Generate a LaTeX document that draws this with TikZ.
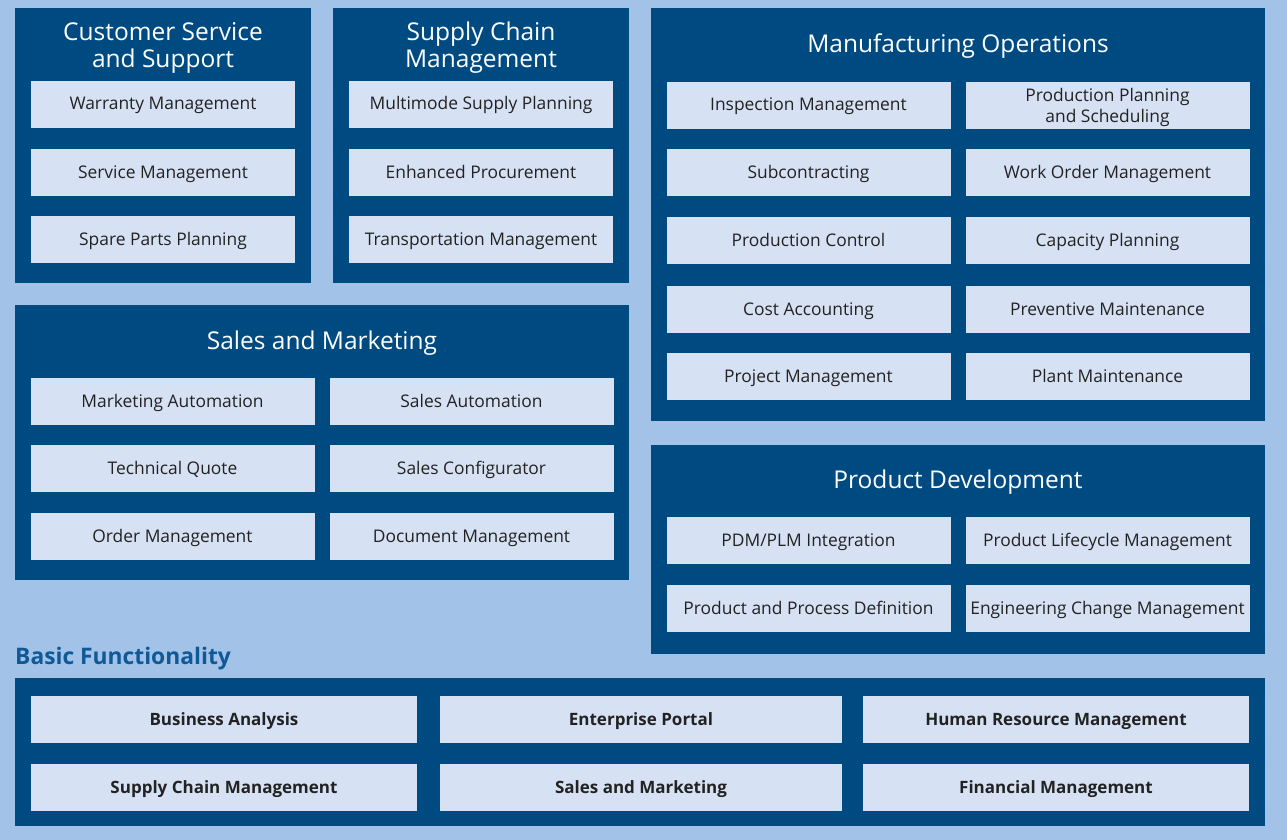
\documentclass[tikz,border=0pt]{standalone}
\usepackage{fontspec}
\setmainfont{Open Sans}
\usepackage{xcolor}
\usetikzlibrary{positioning}

\definecolor{pagebg}{HTML}{A3C2E7}
\definecolor{panelblue}{HTML}{004A82}
\definecolor{itembg}{HTML}{D6E1F4}
\definecolor{itemtext}{HTML}{222222}
\definecolor{basictext}{HTML}{0F5A96}

\tikzset{
  panel/.style={fill=panelblue, draw=none},
  title/.style={text=white, align=center, inner sep=0pt,
                font=\fontsize{24.5}{27}\selectfont},
  itembase/.style={fill=itembg, text=itemtext, align=center, inner sep=0pt,
                   minimum height=47pt, font=\fontsize{17.4}{21}\selectfont},
  item/.style={itembase, text height=14pt, text depth=3pt},
  basic/.style={item, font=\bfseries\fontsize{17}{21}\selectfont}
}

\begin{document}
\begin{tikzpicture}[x=1pt,y=-1pt]
  \fill[pagebg] (0,0) rectangle (1287,840);
  \useasboundingbox (0,0) rectangle (1287,840);

  % panels
  \fill[panel] (15,8)    rectangle (311,283);
  \fill[panel] (333,8)   rectangle (629,283);
  \fill[panel] (651,8)   rectangle (1265,421);
  \fill[panel] (15,305)  rectangle (629,580);
  \fill[panel] (651,445) rectangle (1265,654);
  \fill[panel] (15,678)  rectangle (1265,826);

  % customer service
  \node[title] (cs)  at (163,48) {Customer Service\\and Support};
  \node[item, minimum width=264pt] (cs1) at (163,104.5) {Warranty Management};
  \node[item, minimum width=264pt] (cs2) at (163,172.5) {Service Management};
  \node[item, minimum width=264pt] (cs3) at (163,239.5) {Spare Parts Planning};

  % supply chain
  \node[title] (sc)  at (481,48) {Supply Chain\\Management};
  \node[item, minimum width=264pt] (sc1) at (481,104.5) {Multimode Supply Planning};
  \node[item, minimum width=264pt] (sc2) at (481,172.5) {Enhanced Procurement};
  \node[item, minimum width=264pt] (sc3) at (481,239.5) {Transportation Management};

  % manufacturing
  \node[title] (mo)  at (958,46) {Manufacturing Operations};
  \node[item, minimum width=284pt] (mo1)  at (808.5,105.5) {Inspection Management};
  \node[itembase, minimum width=284pt, minimum height=47pt] (mo2) at (1107.5,105.5) {};
  \node[itembase, fill=none, minimum height=0pt] (mo2t) at (1107.5,107.5) {Production Planning\\and Scheduling};
  \node[item, minimum width=284pt] (mo3)  at (808.5,172.5) {Subcontracting};
  \node[item, minimum width=284pt] (mo4)  at (1107.5,172.5) {Work Order Management};
  \node[item, minimum width=284pt] (mo5)  at (808.5,240.5) {Production Control};
  \node[item, minimum width=284pt] (mo6)  at (1107.5,240.5) {Capacity Planning};
  \node[item, minimum width=284pt] (mo7)  at (808.5,309.5) {Cost Accounting};
  \node[item, minimum width=284pt] (mo8)  at (1107.5,309.5) {Preventive Maintenance};
  \node[item, minimum width=284pt] (mo9)  at (808.5,376.5) {Project Management};
  \node[item, minimum width=284pt] (mo10) at (1107.5,376.5) {Plant Maintenance};

  % sales
  \node[title] (sm)  at (322,343) {Sales and Marketing};
  \node[item, minimum width=284pt] (sm1) at (172.5,401.5) {Marketing Automation};
  \node[item, minimum width=284pt] (sm2) at (471.5,401.5) {Sales Automation};
  \node[item, minimum width=284pt] (sm3) at (172.5,468.5) {Technical Quote};
  \node[item, minimum width=284pt] (sm4) at (471.5,468.5) {Sales Configurator};
  \node[item, minimum width=284pt] (sm5) at (172.5,536.5) {Order Management};
  \node[item, minimum width=284pt] (sm6) at (471.5,536.5) {Document Management};

  % product development
  \node[title] (pd)  at (958,482) {Product Development};
  \node[item, minimum width=284pt] (pd1) at (808.5,540.5) {PDM/PLM Integration};
  \node[item, minimum width=284pt] (pd2) at (1107.5,540.5) {Product Lifecycle Management};
  \node[item, minimum width=284pt] (pd3) at (808.5,608.5) {Product and Process Definition};
  \node[item, minimum width=284pt] (pd4) at (1107.5,608.5) {Engineering Change Management};

  % basic functionality
  \node[anchor=west, inner sep=0pt, text=basictext,
        font=\bfseries\fontsize{22.8}{27}\selectfont] (bf) at (15,659) {Basic Functionality};
  \node[basic, minimum width=386pt] (bf1) at (224,719.5)  {Business Analysis};
  \node[basic, minimum width=402pt] (bf2) at (641,719.5)  {Enterprise Portal};
  \node[basic, minimum width=386pt] (bf3) at (1056,719.5) {Human Resource Management};
  \node[basic, minimum width=386pt] (bf4) at (224,787.5)  {Supply Chain Management};
  \node[basic, minimum width=402pt] (bf5) at (641,787.5)  {Sales and Marketing};
  \node[basic, minimum width=386pt] (bf6) at (1056,787.5) {Financial Management};
\end{tikzpicture}
\end{document}
